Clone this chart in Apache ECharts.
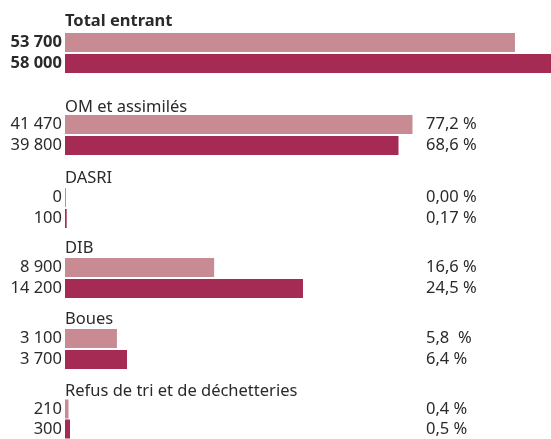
<!DOCTYPE html>
<html>
<head>
<meta charset="utf-8">
<script src="https://cdn.jsdelivr.net/npm/echarts@6/dist/echarts.min.js"></script>
<style>
  html, body { margin: 0; padding: 0; background: #fff; }
  #chart { width: 551px; height: 439px; }
</style>
</head>
<body>
<div id="chart"></div>
<script>
// groupes de déchets
var groups = ['Total entrant', 'OM et assimilés', 'DASRI', 'DIB', 'Boues', 'Refus de tri et de déchetteries'];
// tonnages, première et seconde année
var before = [53700, 41470, 0, 8900, 3100, 210];
var after = [58000, 39800, 100, 14200, 3700, 300];
// parts en %
var pctBefore = ['', '77,2 %', '0,00 %', '16,6 %', '5,8  %', '0,4 %'];
var pctAfter = ['', '68,6 %', '0,17 %', '24,5 %', '6,4 %', '0,5 %'];
// échelle de chaque bloc (les petits postes sont dessinés à l'échelle double)
var scaleMax = [58000, 58000, 29000, 29000, 29000, 29000];

// mise en page
var gridTop = [32, 114, 187, 257, 328, 399];
var titleY = [21, 107, 178, 248, 319, 391];
var left = 65;
var light = '#c98b93', dark = '#a52a54', ink = '#2a2a2a';
var font = 'Noto Sans';
var size = 16.5;

function fmt(v) {
  return String(v).replace(/\B(?=(\d{3})+(?!\d))/g, ' ');
}

var chart = echarts.init(document.getElementById('chart'));

var grid = [], xAxis = [], yAxis = [], series = [], graphic = [];
for (var i = 0; i < groups.length; i++) {
  grid.push({ left: left, right: 0, top: gridTop[i], height: 42 });
  xAxis.push({
    gridIndex: i, type: 'value', min: 0, max: scaleMax[i],
    show: false
  });
  (function (i) {
    var vals = [before[i], after[i]];
    var pcts = [pctBefore[i], pctAfter[i]];
    // montants à gauche
    yAxis.push({
      gridIndex: i, type: 'category', data: ['a', 'b'], inverse: true,
      axisLine: { show: false }, axisTick: { show: false },
      axisLabel: {
        interval: 0, margin: 3, fontSize: size, fontFamily: font, color: ink,
        fontWeight: i === 0 ? 'bold' : 'normal',
        formatter: function (v, idx) { return fmt(vals[idx]); }
      }
    });
    // pourcentages à droite
    yAxis.push({
      gridIndex: i, type: 'category', data: ['a', 'b'], inverse: true,
      position: 'left', offset: -361,
      axisLine: { show: false }, axisTick: { show: false },
      axisLabel: {
        interval: 0, margin: 0, align: 'left', fontSize: size, fontFamily: font, color: ink,
        formatter: function (v, idx) { return pcts[idx]; }
      }
    });
  })(i);
  series.push({
    type: 'bar', xAxisIndex: i, yAxisIndex: i * 2, barWidth: 19,
    barMinHeight: 1, silent: true,
    data: [
      { value: before[i], itemStyle: { color: light } },
      { value: after[i], itemStyle: { color: dark } }
    ]
  });
  graphic.push({
    type: 'text', x: left, y: titleY[i],
    style: {
      text: groups[i], fill: ink, verticalAlign: 'middle',
      font: (i === 0 ? 'bold ' : '') + size + 'px "' + font + '"'
    }
  });
}

chart.setOption({
  animation: false,
  backgroundColor: '#fff',
  grid: grid,
  xAxis: xAxis,
  yAxis: yAxis,
  series: series,
  graphic: graphic
});
</script>
</body>
</html>
